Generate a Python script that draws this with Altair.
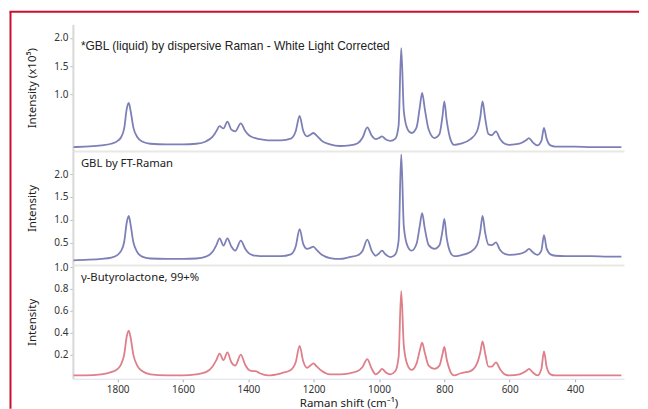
import altair as alt
import pandas as pd

# Raman shift (cm-1), shared by the three spectra
shift = [1935, 1900, 1850, 1820, 1800, 1790, 1780, 1772, 1766, 1760, 1752, 1740, 1725, 1700,
         1650, 1600, 1560, 1530, 1510, 1498, 1488, 1476, 1464, 1452, 1440, 1423, 1410, 1398,
         1385, 1378, 1365, 1340, 1300, 1270, 1255, 1243, 1232, 1220, 1210, 1201, 1190, 1175,
         1150, 1120, 1090, 1065, 1050, 1036, 1022, 1010, 1000, 991, 980, 965, 950, 940, 932,
         924, 912, 900, 885, 875, 868, 860, 848, 830, 815, 806, 800, 793, 782, 770, 750, 720,
         700, 690, 683, 675, 665, 655, 642, 630, 615, 600, 570, 550, 541, 530, 515, 503, 495,
         487, 475, 460, 430, 400, 350, 300, 258]

# *GBL (liquid) by dispersive Raman (x10^5)
gbl_dispersive = [0.07, 0.08, 0.10, 0.13, 0.18, 0.24, 0.40, 0.75, 0.85, 0.70, 0.42, 0.25, 0.17, 0.13,
                  0.12, 0.12, 0.13, 0.17, 0.25, 0.35, 0.44, 0.40, 0.52, 0.38, 0.35, 0.49, 0.36, 0.28,
                  0.24, 0.23, 0.21, 0.19, 0.19, 0.22, 0.35, 0.62, 0.36, 0.26, 0.29, 0.32, 0.27, 0.18,
                  0.12, 0.09, 0.10, 0.14, 0.24, 0.42, 0.27, 0.21, 0.23, 0.26, 0.21, 0.18, 0.22, 0.45, 1.82,
                  0.70, 0.38, 0.32, 0.42, 0.78, 1.03, 0.75, 0.38, 0.23, 0.30, 0.60, 0.88, 0.55, 0.22, 0.11, 0.13, 0.21,
                  0.35, 0.60, 0.88, 0.58, 0.30, 0.28, 0.35, 0.22, 0.13, 0.11, 0.13, 0.19, 0.23, 0.16, 0.10, 0.18, 0.41,
                  0.22, 0.10, 0.08, 0.08, 0.08, 0.07, 0.07, 0.07]

# GBL by FT-Raman
gbl_ft = [0.12, 0.13, 0.15, 0.18, 0.24, 0.32, 0.52, 0.95, 1.09, 0.88, 0.52, 0.30, 0.20, 0.16,
          0.15, 0.15, 0.16, 0.20, 0.30, 0.45, 0.60, 0.44, 0.60, 0.42, 0.33, 0.55, 0.38, 0.27,
          0.23, 0.22, 0.21, 0.21, 0.21, 0.25, 0.42, 0.80, 0.48, 0.37, 0.39, 0.42, 0.34, 0.24,
          0.17, 0.15, 0.19, 0.23, 0.33, 0.57, 0.32, 0.22, 0.27, 0.33, 0.25, 0.19, 0.25, 0.55, 2.43,
          0.85, 0.42, 0.33, 0.48, 0.88, 1.15, 0.82, 0.45, 0.37, 0.45, 0.75, 1.02, 0.62, 0.30, 0.21, 0.23, 0.30,
          0.45, 0.75, 1.09, 0.72, 0.46, 0.45, 0.51, 0.35, 0.26, 0.24, 0.26, 0.32, 0.37, 0.30, 0.24, 0.33, 0.67,
          0.38, 0.25, 0.22, 0.21, 0.21, 0.21, 0.20, 0.20]

# gamma-Butyrolactone, 99+% (reference library)
gbl_library = [0.01, 0.01, 0.02, 0.04, 0.07, 0.11, 0.20, 0.37, 0.42, 0.35, 0.20, 0.10, 0.05, 0.02,
               0.01, 0.01, 0.02, 0.04, 0.09, 0.15, 0.21, 0.15, 0.22, 0.13, 0.10, 0.20, 0.11, 0.06,
               0.05, 0.05, 0.03, 0.01, 0.03, 0.06, 0.13, 0.28, 0.14, 0.08, 0.10, 0.12, 0.09, 0.05,
               0.02, 0.02, 0.03, 0.05, 0.09, 0.16, 0.07, 0.02, 0.04, 0.07, 0.04, 0.02, 0.05, 0.18, 0.78,
               0.28, 0.10, 0.06, 0.12, 0.24, 0.31, 0.22, 0.10, 0.07, 0.10, 0.20, 0.27, 0.16, 0.05, 0.01, 0.03, 0.05,
               0.12, 0.22, 0.32, 0.21, 0.09, 0.09, 0.13, 0.07, 0.02, 0.01, 0.02, 0.05, 0.07, 0.04, 0.01, 0.07, 0.23,
               0.09, 0.02, 0.01, 0.01, 0.01, 0.01, 0.01, 0.01]

x_ticks = [1800, 1600, 1400, 1200, 1000, 800, 600, 400]
labels = ["*GBL (liquid) by dispersive Raman - White Light Corrected",
          "GBL by FT-Raman",
          "\u03b3-Butyrolactone, 99+%"]

X_DOMAIN = [250, 1937]
AXIS_FONT = "Noto Sans"


def panel(values, y_domain, y_ticks, y_title, height, color, label, label_font, label_size,
          label_y, bottom):
    df = pd.DataFrame({"shift": shift, "intensity": values})
    if bottom:
        xaxis = alt.Axis(values=x_ticks, format="d", tickSize=3, tickColor="#aab",
                         domainColor="#dde", labelFontSize=10, labelColor="#333",
                         labelFont=AXIS_FONT, labelPadding=3, grid=False,
                         title="Raman shift (cm\u207b\u00b9)", titleFont=AXIS_FONT,
                         titleFontSize=11.5, titleFontWeight="normal", titleColor="#222",
                         titlePadding=3)
    else:
        xaxis = alt.Axis(values=x_ticks, labels=False, ticks=False, grid=False,
                         domainColor="#e8e8e4", domainWidth=2, title=None)
    line = alt.Chart(df).mark_line(color=color, strokeWidth=1.8, interpolate="monotone",
                                   clip=True).encode(
        x=alt.X("shift:Q", scale=alt.Scale(domain=X_DOMAIN, reverse=True, nice=False, zero=False),
                axis=xaxis),
        y=alt.Y("intensity:Q", scale=alt.Scale(domain=y_domain, nice=False, zero=False),
                axis=alt.Axis(values=y_ticks, format=".1f", tickSize=3, tickColor="#bbb",
                              domainColor="#d8d8d8", domainWidth=2, labelFontSize=10,
                              labelColor="#333", labelFont=AXIS_FONT, labelPadding=2,
                              grid=False, title=y_title, titleFont=AXIS_FONT,
                              titleFontSize=11.5, titleFontWeight="normal", titleColor="#222",
                              titlePadding=16)),
    )
    text = alt.Chart(pd.DataFrame({"label": [label]})).mark_text(
        align="left", baseline="middle", fontSize=label_size, font=label_font, color="#222"
    ).encode(x=alt.value(8), y=alt.value(label_y), text="label:N")
    return alt.layer(line, text).properties(width=552, height=height)


p1 = panel(gbl_dispersive, [0, 2.24], [1.0, 1.5, 2.0], "Intensity (x10\u2075)", 127,
           "#7d80b6", labels[0], "Liberation Sans", 12, 22, False)
p2 = panel(gbl_ft, [0.02, 2.5], [0.5, 1.0, 1.5, 2.0], "Intensity", 114,
           "#7d80b6", labels[1], AXIS_FONT, 11.3, 13, False)
p3 = panel(gbl_library, [-0.02, 1.02], [0.2, 0.4, 0.6, 0.8, 1.0], "Intensity", 114,
           "#de7f8a", labels[2], AXIS_FONT, 11.3, 13, True)

# decorative red frame (left and top edges)
frame_df = pd.DataFrame({"k": [0]})
frame_left = alt.Chart(frame_df).mark_rule(color="#c8102e", strokeWidth=2).encode(
    x=alt.value(-62.5), y=alt.value(-12.5), y2=alt.value(385))
frame_top = alt.Chart(frame_df).mark_rule(color="#c8102e", strokeWidth=2).encode(
    x=alt.value(-63.5), x2=alt.value(567), y=alt.value(-12.5))
p1 = alt.layer(p1, frame_left, frame_top)

chart = alt.vconcat(p1, p2, p3, spacing=0).properties(
    padding={"left": 0, "top": 2, "right": 0, "bottom": 0},
    background="white",
    bounds="flush",
).configure_view(stroke=None)

chart.save("out.html", embed_options={"renderer": "svg", "actions": False})
